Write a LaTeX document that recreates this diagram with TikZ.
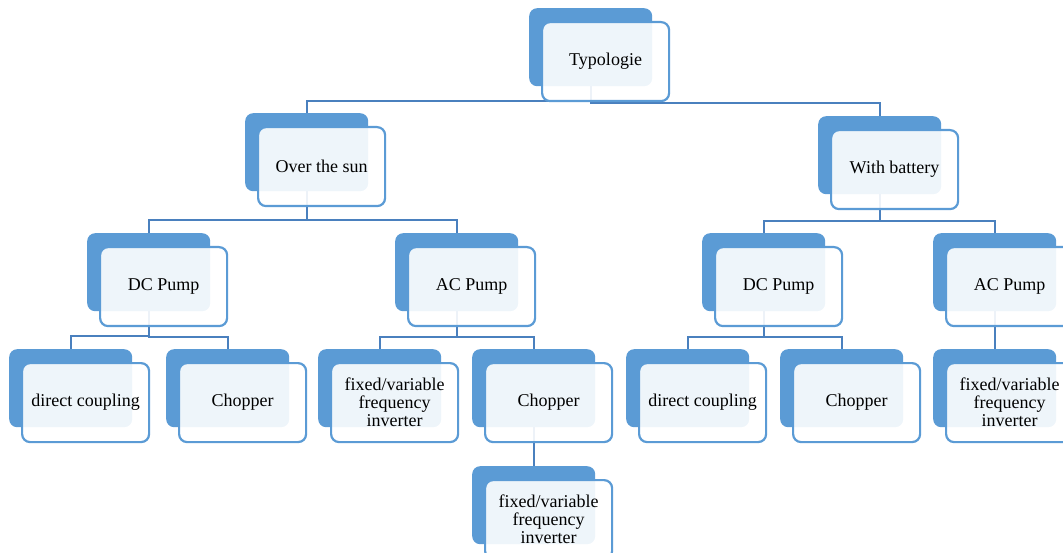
\documentclass[tikz,border=0pt]{standalone}
\usepackage{fontspec}
\setmainfont{Liberation Serif}
\usetikzlibrary{backgrounds}
\definecolor{bk}{HTML}{5B9BD5}
\definecolor{ln}{HTML}{4A80BE}
\tikzset{
  backbox/.style={draw=none, fill=bk, rounded corners=8pt, minimum width=123pt,
    minimum height=78pt, anchor=north west, inner sep=0pt},
  frontbox/.style={draw=bk, line width=2.2pt, fill=white, fill opacity=0.9, text opacity=1,
    rounded corners=8pt, minimum width=127pt, minimum height=79pt, anchor=north west,
    inner sep=0pt, align=center, font=\fontsize{18}{18}\selectfont},
  conn/.style={draw=ln, line width=2.2pt},
}
\newcommand\tbox[4]{%
  \node[backbox] (#1-b) at (#2,#3) {};
  \node[frontbox] (#1) at (#2+12,#3+13) {#4};
}
\begin{document}
\begin{tikzpicture}[x=1pt,y=-1pt]
\useasboundingbox (0,0) rectangle (1063,553);
\clip (0,0) rectangle (1063,553);
\tbox{top}{529}{8}{Typologie}
\tbox{sun}{245}{113}{Over the sun}
\tbox{bat}{818}{116}{With battery}
\tbox{dca}{87}{233}{DC Pump}
\tbox{aca}{395}{233}{AC Pump}
\tbox{dcb}{702}{233}{DC Pump}
\tbox{acb}{933}{233}{AC Pump}
\tbox{dcca}{9}{349}{direct coupling}
\tbox{cha}{166}{349}{Chopper}
\tbox{fva}{318}{349}{fixed/variable\\frequency\\inverter}
\tbox{chb}{472}{349}{Chopper}
\tbox{dccb}{626}{349}{direct coupling}
\tbox{chc}{780}{349}{Chopper}
\tbox{fvc}{933}{349}{fixed/variable\\frequency\\inverter}
\tbox{fvb}{472}{466}{fixed/variable\\frequency\\inverter}
\begin{pgfonlayer}{background}
\draw[conn] (top-b.south) -- ++(0,15) -| (sun-b.north);
\draw[conn] (top-b.south) -- ++(0,17) -| (bat-b.north);
\draw[conn] (sun-b.south) -- ++(0,29) -| (dca-b.north);
\draw[conn] (sun-b.south) -- ++(0,29) -| (aca-b.north);
\draw[conn] (bat-b.south) -- ++(0,27) -| (dcb-b.north);
\draw[conn] (bat-b.south) -- ++(0,27) -| (acb-b.north);
\draw[conn] (dca-b.south) -- ++(0,25) -| (dcca-b.north);
\draw[conn] (dca-b.south) -- ++(0,26) -| (cha-b.north);
\draw[conn] (aca-b.south) -- ++(0,26) -| (fva-b.north);
\draw[conn] (aca-b.south) -- ++(0,26) -| (chb-b.north);
\draw[conn] (chb-b.south) -- (fvb-b.north);
\draw[conn] (dcb-b.south) -- ++(0,26) -| (dccb-b.north);
\draw[conn] (dcb-b.south) -- ++(0,26) -| (chc-b.north);
\draw[conn] (acb-b.south) -- (fvc-b.north);
\end{pgfonlayer}
\end{tikzpicture}
\end{document}
